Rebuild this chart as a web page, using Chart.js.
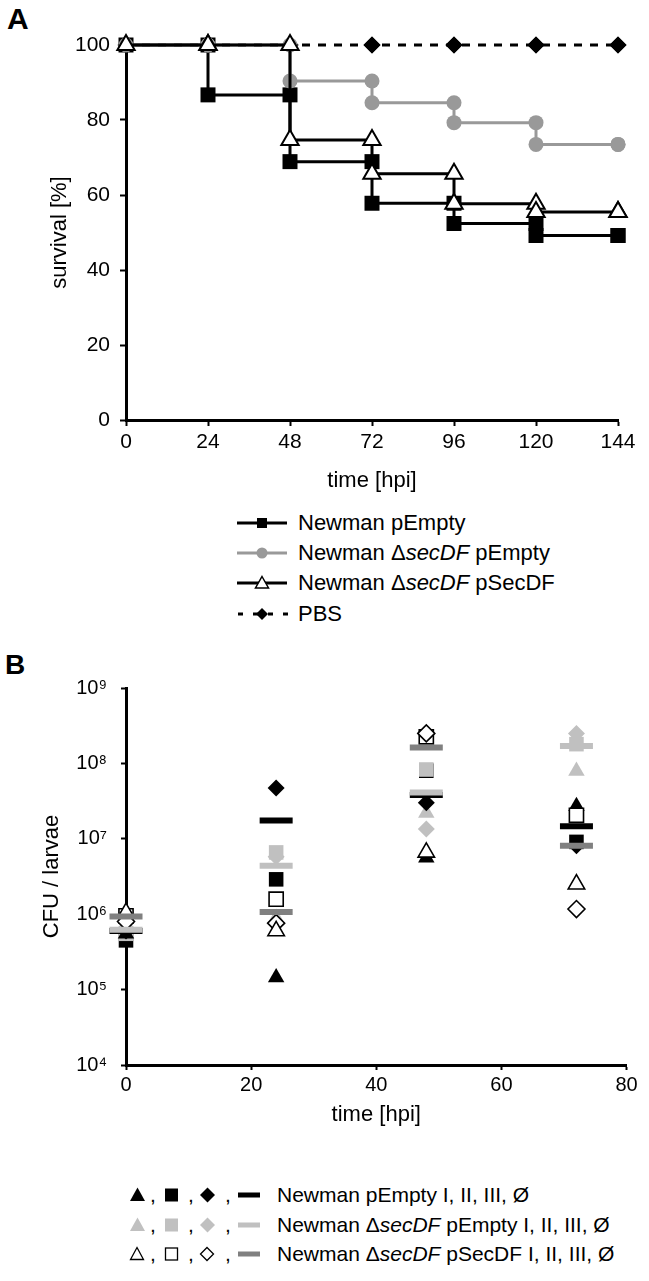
<!DOCTYPE html>
<html>
<head>
<meta charset="utf-8">
<title>Survival and CFU</title>
<script src="https://cdn.jsdelivr.net/npm/chart.js@4.4.1/dist/chart.umd.min.js"></script>
<style>
  html, body { margin: 0; padding: 0; background: #fff; }
  body { width: 649px; height: 1281px; position: relative; overflow: hidden;
         font-family: 'Liberation Sans', Arial, sans-serif; color: #000; }
  canvas { position: absolute; left: 0; }
  .letter { position: absolute; font-weight: bold; font-size: 30px; line-height: 1; }
  .row { position: absolute; left: 0; width: 649px; height: 30px; line-height: 30px;
         font-size: 21px; white-space: nowrap; }
  .row.big { font-size: 22px; }
  .row svg { position: absolute; top: 0; }
  .row span { position: absolute; top: 0; }
</style>
</head>
<body>

<div class="letter" style="left:7px; top:4px;">A</div>
<canvas id="survivalChart" width="649" height="500" style="top:0;"></canvas>

<!-- legend A -->
<div class="row big" style="top:508px;">
  <svg width="56" height="30" style="left:234px;">
    <line x1="3" y1="15" x2="53" y2="15" stroke="#000" stroke-width="3"/>
    <rect x="23" y="10" width="10" height="10" fill="#000"/>
  </svg>
  <span style="left:298px;">Newman pEmpty</span>
</div>
<div class="row big" style="top:538px;">
  <svg width="56" height="30" style="left:234px;">
    <line x1="3" y1="15" x2="53" y2="15" stroke="#999" stroke-width="3"/>
    <circle cx="28" cy="15" r="5.5" fill="#999"/>
  </svg>
  <span style="left:298px;">Newman Δ<i>secDF</i> pEmpty</span>
</div>
<div class="row big" style="top:568px;">
  <svg width="56" height="30" style="left:234px;">
    <line x1="3" y1="15" x2="53" y2="15" stroke="#000" stroke-width="3"/>
    <polygon points="28,8.5 34.5,20 21.5,20" fill="#fff" stroke="#000" stroke-width="1.5"/>
  </svg>
  <span style="left:298px;">Newman Δ<i>secDF</i> pSecDF</span>
</div>
<div class="row big" style="top:599px;">
  <svg width="56" height="30" style="left:234px;">
    <line x1="4" y1="15" x2="54" y2="15" stroke="#000" stroke-width="3" stroke-dasharray="5,10"/>
    <polygon points="28,9 34,15 28,21 22,15" fill="#000"/>
  </svg>
  <span style="left:298px;">PBS</span>
</div>

<div class="letter" style="left:5px; top:651px; font-size:28px;">B</div>
<canvas id="cfuChart" width="649" height="500" style="top:640px;"></canvas>

<!-- legend B -->
<div class="row" style="top:1180px;">
  <svg width="140" height="30" style="left:125px;">
    <polygon points="12.5,7.5 20,21 5,21" fill="#000"/>
    <rect x="40" y="8.5" width="13" height="13" fill="#000"/>
    <polygon points="82.5,7.5 90,15 82.5,22.5 75,15" fill="#000"/>
    <rect x="113" y="12.5" width="22" height="5" fill="#000"/>
  </svg>
  <span style="left:150px;">,</span><span style="left:188px;">,</span><span style="left:225px;">,</span>
  <span style="left:277px;">Newman pEmpty I, II, III, Ø</span>
</div>
<div class="row" style="top:1210px;">
  <svg width="140" height="30" style="left:125px;">
    <polygon points="12.5,7.5 20,21 5,21" fill="#c0c0c0"/>
    <rect x="40" y="8.5" width="13" height="13" fill="#c0c0c0"/>
    <polygon points="82.5,7.5 90,15 82.5,22.5 75,15" fill="#c0c0c0"/>
    <rect x="113" y="12.5" width="22" height="5" fill="#c0c0c0"/>
  </svg>
  <span style="left:150px;">,</span><span style="left:188px;">,</span><span style="left:225px;">,</span>
  <span style="left:277px;">Newman Δ<i>secDF</i> pEmpty I, II, III, Ø</span>
</div>
<div class="row" style="top:1239px;">
  <svg width="140" height="30" style="left:125px;">
    <polygon points="12,8.5 18.5,20.5 5.5,20.5" fill="#fff" stroke="#000" stroke-width="1.3"/>
    <rect x="40.5" y="9" width="12" height="12" fill="#fff" stroke="#000" stroke-width="1.3"/>
    <polygon points="82,8.5 88.5,15 82,21.5 75.5,15" fill="#fff" stroke="#000" stroke-width="1.3"/>
    <rect x="113" y="12.5" width="22" height="5" fill="#808080"/>
  </svg>
  <span style="left:150px;">,</span><span style="left:188px;">,</span><span style="left:225px;">,</span>
  <span style="left:277px;">Newman Δ<i>secDF</i> pSecDF I, II, III, Ø</span>
</div>

<script>
// ---- panel A: survival [%] ----
const hours = [0, 24, 48, 72, 96, 120, 144];
const survTicks = [0, 20, 40, 60, 80, 100];
const survPEmpty = [100, 86.7, 68.9, 57.8, 52.4, 49.2, 49.2];
const survSecDFpEmpty = [100, 100, 90.4, 84.6, 79.3, 73.5, 73.5];
const survSecDFpSecDF = [100, 100, 74.7, 65.7, 57.7, 55.5, 55.5];
const survPBS = [100, 100, 100, 100, 100, 100, 100];

// ---- panel B: CFU / larvae ----
const cfuHours = [0, 24, 48, 72];
const cfuXTicks = [0, 20, 40, 60, 80];
const cfuTicks = [1e4, 1e5, 1e6, 1e7, 1e8, 1e9];
// Newman pEmpty  I, II, III, mean
const wtI = [5.5e5, 1.45e5, 5.6e6, 2.7e7];
const wtII = [4.5e5, 2.9e6, 8.0e7, 9.1e6];
const wtIII = [6.0e5, 4.7e7, 3.0e7, 8.1e6];
const wtMean = [6.0e5, 1.75e7, 3.8e7, 1.47e7];
// Newman ΔsecDF pEmpty  I, II, III, mean
const delI = [6.5e5, 8.9e5, 2.2e7, 7.9e7];
const delII = [5.5e5, 6.6e6, 8.3e7, 1.8e8];
const delIII = [6.6e5, 5.8e6, 1.35e7, 2.5e8];
const delMean = [6.2e5, 4.4e6, 4.1e7, 1.7e8];
// Newman ΔsecDF pSecDF  I, II, III, mean
const compI = [1.05e6, 6.0e5, 6.6e6, 2.5e6];
const compII = [9.5e5, 1.58e6, 2.25e8, 2.05e7];
const compIII = [8.0e5, 7.6e5, 2.5e8, 1.17e6];
const compMean = [9.3e5, 1.07e6, 1.63e8, 8.1e6];

Chart.defaults.font.family = "'Liberation Sans', 'DejaVu Sans', sans-serif";
Chart.defaults.color = '#000';

const LIGHT = '#c0c0c0';
const DARK = '#808080';

// Kaplan-Meier steps: marker at old and new level at each time
function stepPoints(values) {
    const pts = [];
    hours.forEach((h, i) => {
        if (i > 0) pts.push({ x: h, y: values[i - 1] });
        pts.push({ x: h, y: values[i] });
    });
    return pts;
}

function axisTicks(list) {
    return scale => { scale.ticks = list.map(v => ({ value: v })); };
}

const tickGrid = len => ({
    display: true,
    drawOnChartArea: false,
    drawTicks: true,
    tickLength: len,
    tickWidth: 2,
    tickColor: '#000'
});

new Chart(document.getElementById('survivalChart'), {
    type: 'scatter',
    data: {
        datasets: [
            {
                label: 'Newman ΔsecDF pSecDF',
                data: stepPoints(survSecDFpSecDF),
                showLine: true, clip: false,
                borderColor: '#000', borderWidth: 3,
                pointStyle: 'triangle', pointRadius: 10,
                pointBackgroundColor: '#fff', pointBorderColor: '#000', pointBorderWidth: 2
            },
            {
                label: 'Newman ΔsecDF pEmpty',
                data: stepPoints(survSecDFpEmpty),
                showLine: true, clip: false,
                borderColor: '#999', borderWidth: 3,
                pointStyle: 'circle', pointRadius: 7.5,
                pointBackgroundColor: '#999', pointBorderColor: '#999', pointBorderWidth: 0
            },
            {
                label: 'Newman pEmpty',
                data: stepPoints(survPEmpty),
                showLine: true, clip: false,
                borderColor: '#000', borderWidth: 3,
                pointStyle: 'rect', pointRadius: 10.6,
                pointBackgroundColor: '#000', pointBorderColor: '#000', pointBorderWidth: 0
            },
            {
                label: 'PBS',
                data: stepPoints(survPBS),
                showLine: true, clip: false,
                borderColor: '#000', borderWidth: 3, borderDash: [8, 8],
                pointStyle: 'rectRot', pointRadius: 8.5,
                pointBackgroundColor: '#000', pointBorderColor: '#000', pointBorderWidth: 0
            }
        ]
    },
    options: {
        responsive: false,
        animation: false,
        events: [],
        layout: { padding: { top: 45, right: 31, bottom: 0, left: 0 } },
        plugins: { legend: { display: false }, tooltip: { enabled: false } },
        scales: {
            x: {
                type: 'linear', min: 0, max: 144,
                afterBuildTicks: axisTicks(hours),
                afterFit: s => { s.height = 80; },
                border: { color: '#000', width: 3 },
                grid: tickGrid(6),
                ticks: { padding: 4, font: { size: 21 }, autoSkip: false },
                title: { display: true, text: 'time [hpi]', font: { size: 22 }, padding: { top: 0, bottom: 6 } }
            },
            y: {
                min: 0, max: 100,
                afterBuildTicks: axisTicks(survTicks),
                afterFit: s => { s.width = 126; },
                border: { color: '#000', width: 3 },
                grid: tickGrid(6),
                ticks: { padding: 10, font: { size: 21 } },
                title: { display: true, text: 'survival [%]', font: { size: 22 }, padding: { top: 47, bottom: 0 } }
            }
        }
    }
});

// ---- panel B ----
function marks(label, values, style, radius, fill, stroke, width) {
    return {
        label: label,
        data: cfuHours.map((h, i) => ({ x: h, y: values[i] })),
        showLine: false, clip: false,
        pointStyle: style, pointRadius: radius,
        pointBackgroundColor: fill, pointBorderColor: stroke, pointBorderWidth: width
    };
}

// listed bottom to top, reversed below because Chart.js draws dataset 0 last
const cfuSets = [
    marks('pEmpty II', wtII, 'rect', 10.3, '#000', '#000', 0),
    marks('ΔsecDF pEmpty II', delII, 'rect', 10.3, LIGHT, LIGHT, 0),
    marks('ΔsecDF pEmpty I', delI, 'triangle', 9.5, LIGHT, LIGHT, 0),
    marks('ΔsecDF pEmpty III', delIII, 'rectRot', 8.5, LIGHT, LIGHT, 0),
    marks('pEmpty I', wtI, 'triangle', 9.5, '#000', '#000', 0),
    marks('pEmpty III', wtIII, 'rectRot', 8.5, '#000', '#000', 0),
    marks('ΔsecDF pSecDF II', compII, 'rect', 10, '#fff', '#000', 1.6),
    marks('ΔsecDF pSecDF III', compIII, 'rectRot', 8.5, '#fff', '#000', 1.6),
    marks('ΔsecDF pSecDF I', compI, 'triangle', 9.5, '#fff', '#000', 1.6),
    marks('pEmpty Ø', wtMean, 'line', 16.5, '#000', '#000', 6),
    marks('ΔsecDF pEmpty Ø', delMean, 'line', 16.5, LIGHT, LIGHT, 6),
    marks('ΔsecDF pSecDF Ø', compMean, 'line', 16.5, DARK, DARK, 6)
].reverse();

const SUP = { 4: '\u2074', 5: '\u2075', 6: '\u2076', 7: '\u2077', 8: '\u2078', 9: '\u2079' };

new Chart(document.getElementById('cfuChart'), {
    type: 'scatter',
    data: { datasets: cfuSets },
    options: {
        responsive: false,
        animation: false,
        events: [],
        layout: { padding: { top: 48, right: 18, bottom: 0, left: 0 } },
        plugins: { legend: { display: false }, tooltip: { enabled: false } },
        scales: {
            x: {
                type: 'linear', min: 0, max: 80,
                afterBuildTicks: axisTicks(cfuXTicks),
                afterFit: s => { s.height = 75; },
                border: { color: '#000', width: 3 },
                grid: tickGrid(5),
                ticks: { padding: 3, font: { size: 20 }, autoSkip: false },
                title: { display: true, text: 'time [hpi]', font: { size: 22 }, padding: { top: 0, bottom: 12 } }
            },
            y: {
                type: 'logarithmic', min: 1e4, max: 1e9,
                afterBuildTicks: axisTicks(cfuTicks),
                afterFit: s => { s.width = 126; },
                border: { color: '#000', width: 3 },
                grid: tickGrid(5),
                ticks: {
                    padding: 14, font: { size: 20 }, autoSkip: false,
                    callback: v => '10' + SUP[Math.round(Math.log10(v))]
                },
                title: { display: true, text: 'CFU / larvae', font: { size: 22 }, padding: { top: 39, bottom: 0 } }
            }
        }
    }
});
</script>
</body>
</html>
